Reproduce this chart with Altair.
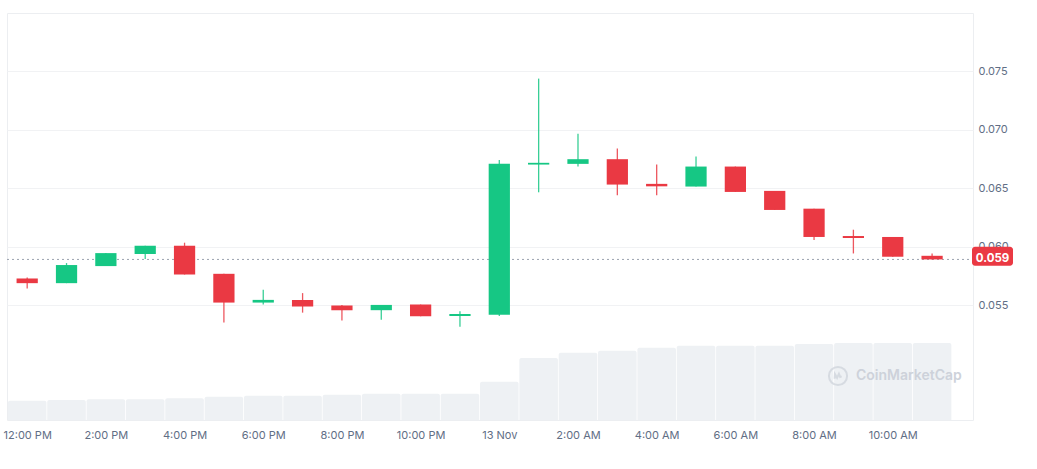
import json
import altair as alt
import pandas as pd

# ---------------- data ----------------
tick_labels = ["12:00 PM", "2:00 PM", "4:00 PM", "6:00 PM", "8:00 PM", "10:00 PM",
               "13 Nov", "2:00 AM", "4:00 AM", "6:00 AM", "8:00 AM", "10:00 AM"]
hour_index = list(range(24))
open_p = [0.05730, 0.05690, 0.05836, 0.05939, 0.06010, 0.05770, 0.05524, 0.05547,
          0.05498, 0.05459, 0.05507, 0.05410, 0.05419, 0.06704, 0.06710, 0.06750,
          0.06539, 0.06516, 0.06687, 0.06479, 0.06327, 0.06093, 0.06085, 0.05924]
high_p = [0.05738, 0.05862, 0.05947, 0.06010, 0.06036, 0.05770, 0.05633, 0.05605,
          0.05504, 0.05504, 0.05507, 0.05450, 0.06744, 0.07439, 0.06967, 0.06841,
          0.06704, 0.06773, 0.06687, 0.06479, 0.06327, 0.06147, 0.06085, 0.05944]
low_p = [0.05644, 0.05690, 0.05836, 0.05896, 0.05764, 0.05353, 0.05507, 0.05438,
         0.05370, 0.05378, 0.05407, 0.05318, 0.05410, 0.06467, 0.06687, 0.06441,
         0.06441, 0.06516, 0.06470, 0.06316, 0.06059, 0.05944, 0.05916, 0.05893]
close_p = [0.05690, 0.05845, 0.05947, 0.06010, 0.05764, 0.05524, 0.05547, 0.05490,
           0.05459, 0.05504, 0.05407, 0.05427, 0.06710, 0.06719, 0.06750, 0.06533,
           0.06518, 0.06687, 0.06470, 0.06316, 0.06085, 0.06076, 0.05916, 0.05893]
volume_k = [193, 200, 207, 207, 217, 233, 243, 243, 253, 263, 263, 263,
            383, 620, 673, 693, 723, 743, 743, 743, 760, 770, 770, 770]
y_ticks = [0.055, 0.060, 0.065, 0.070, 0.075]

df = pd.DataFrame({"h": hour_index, "open": open_p, "high": high_p,
                   "low": low_p, "close": close_p, "volume": volume_k})

GREEN = "#16c784"
RED = "#ea3943"
LABEL = "#616e85"
FONT = "Inter"
W, H = 966, 407

label_expr = json.dumps(tick_labels) + "[round(datum.value / 2)]"
x_scale = alt.Scale(domain=[-0.513, 24.04], nice=False, zero=False)
x_axis = alt.Axis(values=list(range(0, 24, 2)), labelExpr=label_expr, title=None,
                  grid=False, ticks=False, domain=False, labelPadding=9,
                  labelFontSize=11, labelColor=LABEL, labelFont=FONT,
                  labelFlush=False)
price_scale = alt.Scale(domain=[0.0452, 0.0800], nice=False, zero=False)
y_axis = alt.Axis(orient="right", values=y_ticks, format=".3f", title=None,
                  grid=True, gridColor="#f1f2f4", ticks=False, domain=False,
                  labelPadding=5, labelFontSize=11, labelColor=LABEL, labelFont=FONT)

base = alt.Chart(df)

# volume bars
volume = base.transform_calculate(
    v0="datum.h - 0.49", v1="datum.h + 0.49"
).mark_bar(color="#eef1f4", cornerRadiusTopLeft=2, cornerRadiusTopRight=2).encode(
    x=alt.X("v0:Q", scale=x_scale, axis=x_axis),
    x2="v1:Q",
    y=alt.Y("volume:Q", scale=alt.Scale(domain=[0, 4066], nice=False), axis=None),
    y2=alt.datum(0),
)

# watermark
wm_data = alt.Data(values=[{"name": "CoinMarketCap"}])
wm_circle = alt.Chart(wm_data).mark_point(
    shape="circle", size=330, filled=False, color="#cdd2da", strokeWidth=2
).encode(x=alt.value(831), y=alt.value(363))
wm_wave = alt.Chart(wm_data).mark_point(
    shape="M-0.55,0.45 L-0.5,-0.3 L-0.15,0.3 L0.15,-0.35 L0.35,0.15 L0.6,0.05",
    size=150, filled=False, color="#cdd2da", strokeWidth=2
).encode(x=alt.value(831), y=alt.value(363))
wm_text = alt.Chart(wm_data).mark_text(
    align="left", baseline="middle", fontSize=14, fontWeight=600, font=FONT,
    color="#cdd2da"
).encode(x=alt.value(849), y=alt.value(363), text="name:N")

color_enc = alt.condition("datum.close >= datum.open", alt.value(GREEN), alt.value(RED))

wick = base.mark_rule(strokeWidth=1.3, opacity=0.85).encode(
    x=alt.X("h:Q", scale=x_scale, axis=x_axis),
    y=alt.Y("low:Q", scale=price_scale, axis=y_axis),
    y2="high:Q",
    color=color_enc,
)
body = base.transform_calculate(
    b0="datum.h - 0.27", b1="datum.h + 0.27"
).mark_rect().encode(
    x=alt.X("b0:Q", scale=x_scale, axis=x_axis),
    x2="b1:Q",
    y=alt.Y("open:Q", scale=price_scale, axis=y_axis),
    y2="close:Q",
    color=color_enc,
)

last = base.transform_filter(f"datum.h == {hour_index[-1]}")
dotted = last.mark_rule(color="#9ba3af", strokeDash=[2, 3], strokeWidth=1).encode(
    x=alt.value(0), x2=alt.value(W),
    y=alt.Y("close:Q", scale=price_scale, axis=y_axis),
)
price_box = last.transform_calculate(
    p0="datum.close - 0.00055", p1="datum.close + 0.00108"
).mark_rect(color=RED, cornerRadius=3).encode(
    x=alt.value(W - 1), x2=alt.value(W + 40),
    y=alt.Y("p0:Q", scale=price_scale, axis=y_axis),
    y2="p1:Q",
)
price_text = last.mark_text(
    color="white", fontSize=11.5, fontWeight="bold", font=FONT,
    align="center", baseline="middle"
).encode(
    x=alt.value(W + 19.5),
    y=alt.Y("close:Q", scale=price_scale, axis=y_axis),
    text=alt.Text("close:Q", format=".3f"),
)

price = alt.layer(dotted, wick, body, price_box, price_text)

chart = alt.layer(volume, wm_circle, wm_wave, wm_text, price).resolve_scale(
    y="independent"
).properties(
    width=W, height=H,
    autosize="none",
    padding={"left": 7, "top": 13, "right": 1037 - 7 - W, "bottom": 469 - 13 - H},
    background="white",
).configure_view(stroke="#eceef1", strokeWidth=1)

chart.save("out.html", embed_options={"renderer": "svg", "actions": False})
